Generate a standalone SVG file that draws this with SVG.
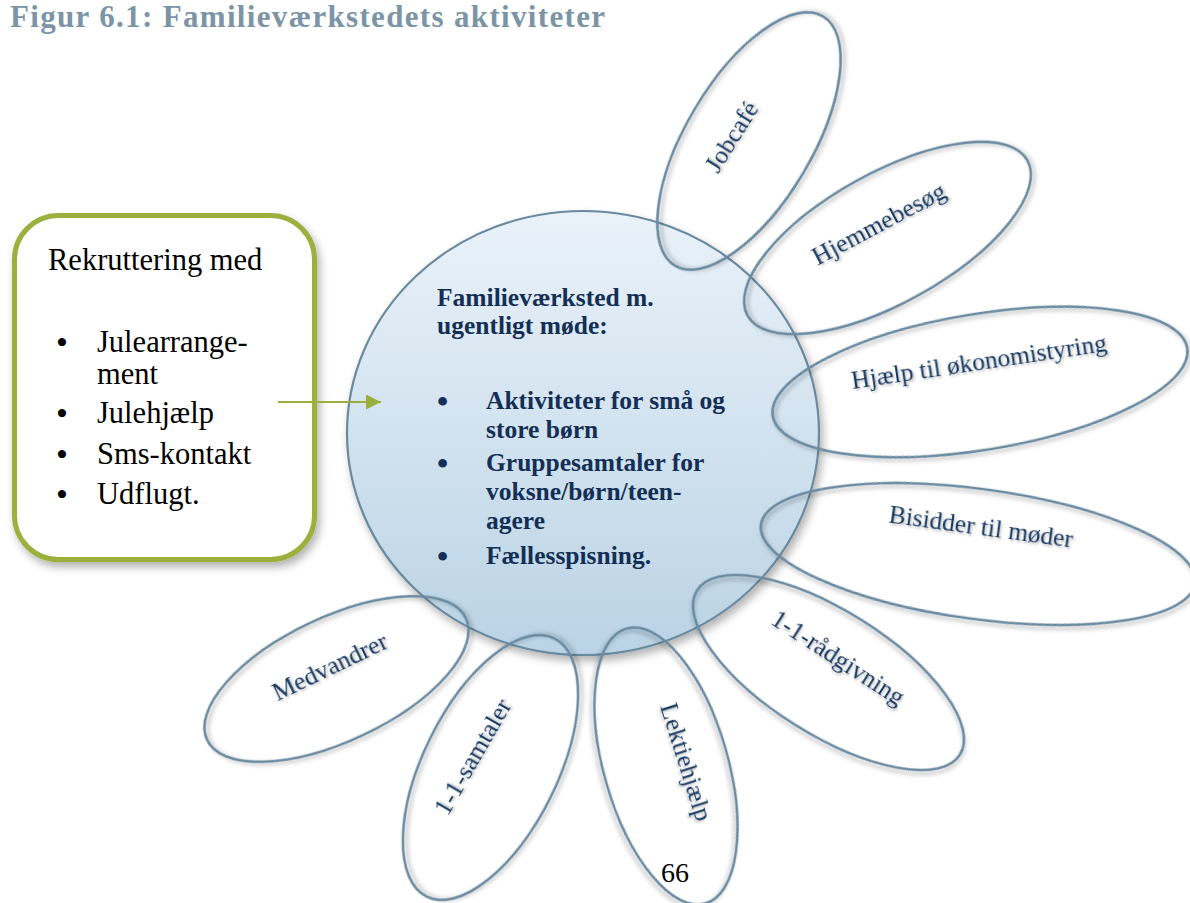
<svg xmlns="http://www.w3.org/2000/svg" width="1190" height="903" viewBox="0 0 1190 903">
<defs>
<linearGradient id="hub" x1="0" y1="0" x2="0" y2="1">
<stop offset="0" stop-color="#eaf2f9"/>
<stop offset="1" stop-color="#bad3e5"/>
</linearGradient>
<filter id="sh" x="-20%" y="-20%" width="140%" height="140%">
<feDropShadow dx="2" dy="3" stdDeviation="2" flood-color="#000" flood-opacity="0.28"/>
</filter>
<filter id="shBig" x="-20%" y="-20%" width="140%" height="140%">
<feDropShadow dx="3" dy="5" stdDeviation="4" flood-color="#000" flood-opacity="0.3"/>
</filter>
<filter id="tsh" x="-20%" y="-50%" width="140%" height="200%">
<feDropShadow dx="1.5" dy="2" stdDeviation="1.2" flood-color="#000" flood-opacity="0.25"/>
</filter>
<marker id="arr" viewBox="0 0 10 10" refX="10" refY="5" markerWidth="7.5" markerHeight="7.5" markerUnits="strokeWidth" orient="auto">
<path d="M0,0 L10,5 L0,10 z" fill="#9bb03c"/>
</marker>
</defs>
<style>
.title{font-family:"Liberation Serif","Times New Roman",serif;font-weight:bold;font-size:31px;fill:#7b95a7}
.box{fill:#fff;stroke:#9bb03c;stroke-width:5}
.bt{font-family:"Liberation Serif","Times New Roman",serif;font-size:30.5px;fill:#000}
.bb{font-family:"Liberation Serif","Times New Roman",serif;font-size:34px;fill:#000}
.hub{fill:url(#hub);stroke:#6b8aa0;stroke-width:2.2}
.ht{font-family:"Liberation Serif","Times New Roman",serif;font-weight:bold;font-size:25.5px;fill:#132f55}
.hb{font-family:"Liberation Serif","Times New Roman",serif;font-weight:bold;font-size:32px;fill:#132f55}
.petal{fill:none;stroke:#6b8aa0;stroke-width:2.6}
.pt{font-family:"Liberation Serif","Times New Roman",serif;font-size:25.5px;fill:#17375e;text-anchor:middle}
.conn{stroke:#9bb03c;stroke-width:2;fill:none}
.pg{font-family:"Liberation Serif","Times New Roman",serif;font-size:28px;fill:#000;text-anchor:middle}
</style>

<text class="title" x="10" y="27" textLength="595" lengthAdjust="spacing">Figur 6.1: Familieværkstedets aktiviteter</text>

<g id="hub-node">
<ellipse class="hub" cx="583" cy="433" rx="236" ry="222" filter="url(#shBig)"/>
<text class="ht" x="437" y="306">Familieværksted m.</text>
<text class="ht" x="437" y="334">ugentligt møde:</text>
<text class="hb" x="437" y="412">•</text>
<text class="ht" x="486" y="409">Aktiviteter for små og</text>
<text class="ht" x="486" y="438">store børn</text>
<text class="hb" x="437" y="474">•</text>
<text class="ht" x="486" y="471">Gruppesamtaler for</text>
<text class="ht" x="486" y="500">voksne/børn/teen-</text>
<text class="ht" x="486" y="529">agere</text>
<text class="hb" x="437" y="567">•</text>
<text class="ht" x="486" y="564">Fællesspisning.</text>
</g>

<g id="petal-jobcafe">
<ellipse class="petal" cx="0" cy="0" rx="145" ry="63" transform="translate(749,141) rotate(-59.3)" filter="url(#sh)"/>
<text class="pt" x="0" y="8" transform="translate(732,137) rotate(-58)" filter="url(#tsh)">Jobcafé</text>
</g>
<g id="petal-hjemmebesog">
<ellipse class="petal" cx="0" cy="0" rx="160" ry="65" transform="translate(887.5,238) rotate(-29)" filter="url(#sh)"/>
<text class="pt" x="0" y="8" transform="translate(879,224) rotate(-28)" filter="url(#tsh)">Hjemmebesøg</text>
</g>
<g id="petal-okonomi">
<ellipse class="petal" cx="0" cy="0" rx="210" ry="68" transform="translate(980,382) rotate(-9.3)" filter="url(#sh)"/>
<text class="pt" x="0" y="8" transform="translate(979,362) rotate(-8.5)" filter="url(#tsh)">Hjælp til økonomistyring</text>
</g>
<g id="petal-bisidder">
<ellipse class="petal" cx="0" cy="0" rx="219" ry="65" transform="translate(978,554) rotate(7.7)" filter="url(#sh)"/>
<text class="pt" x="0" y="8" transform="translate(981,527) rotate(7.8)" filter="url(#tsh)">Bisidder til møder</text>
</g>
<g id="petal-radgivning">
<ellipse class="petal" cx="0" cy="0" rx="155" ry="62" transform="translate(828.5,672.5) rotate(32)" filter="url(#sh)"/>
<text class="pt" x="0" y="8" transform="translate(838,658) rotate(33)" filter="url(#tsh)">1-1-rådgivning</text>
</g>
<g id="petal-lektiehjaelp">
<ellipse class="petal" cx="0" cy="0" rx="143" ry="62" transform="translate(666,766) rotate(74)" filter="url(#sh)"/>
<text class="pt" x="0" y="8" transform="translate(686,762) rotate(72.5)" filter="url(#tsh)">Lektiehjælp</text>
</g>
<g id="petal-samtaler">
<ellipse class="petal" cx="0" cy="0" rx="144" ry="67" transform="translate(490.5,767.5) rotate(-63.7)" filter="url(#sh)"/>
<text class="pt" x="0" y="8" transform="translate(473,757) rotate(-60)" filter="url(#tsh)">1-1-samtaler</text>
</g>
<g id="petal-medvandrer">
<ellipse class="petal" cx="0" cy="0" rx="143" ry="62" transform="translate(336.5,679) rotate(-25.2)" filter="url(#sh)"/>
<text class="pt" x="0" y="8" transform="translate(330,667) rotate(-25.8)" filter="url(#tsh)">Medvandrer</text>
</g>

<g id="recruit-node">
<rect class="box" x="14.5" y="215.5" width="300" height="344" rx="44" ry="44" filter="url(#shBig)"/>
<text class="bt" x="48" y="270">Rekruttering med</text>
<text class="bb" x="56" y="354">•</text>
<text class="bt" x="97" y="352">Julearrange-</text>
<text class="bt" x="97" y="384">ment</text>
<text class="bb" x="56" y="425">•</text>
<text class="bt" x="97" y="423">Julehjælp</text>
<text class="bb" x="56" y="466">•</text>
<text class="bt" x="97" y="464">Sms-kontakt</text>
<text class="bb" x="56" y="506">•</text>
<text class="bt" x="97" y="504">Udflugt.</text>
</g>

<g id="connectors">
<line class="conn" x1="278" y1="402" x2="381" y2="402" marker-end="url(#arr)"/>
</g>

<text class="pg" x="675" y="882">66</text>
</svg>
